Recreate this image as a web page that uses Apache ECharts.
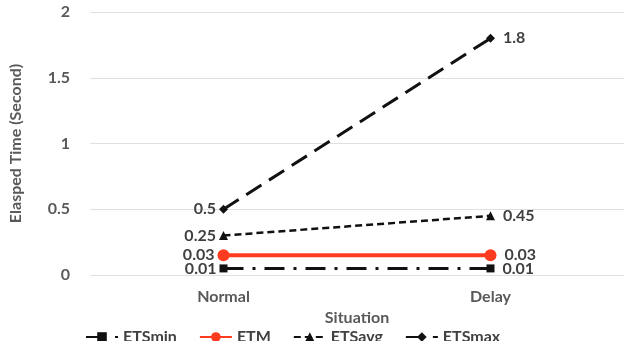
<!DOCTYPE html>
<html>
<head>
<meta charset="utf-8">
<script src="https://cdn.jsdelivr.net/npm/echarts@6/dist/echarts.min.js"></script>
<style>
  html, body { margin: 0; padding: 0; background: #fff; }
  #chart { width: 624px; height: 341px; }
</style>
</head>
<body>
<div id="chart"></div>
<script>
var categories = ['Normal', 'Delay'];
var yTicks = [0, 0.5, 1, 1.5, 2];

// plotted positions
var etsMin = [0.05, 0.05];
var etm = [0.15, 0.15];
var etsAvg = [0.3, 0.45];
var etsMax = [0.5, 1.8];

// printed point labels (differ from plotted positions in the original)
var etsMinText = ['0.01', '0.01'];
var etmText = ['0.03', '0.03'];
var etsAvgText = ['0.25', '0.45'];
var etsMaxText = ['0.5', '1.8'];

var font = 'Lato, "Open Sans", sans-serif';

function mkData(vals, texts) {
    return vals.map(function (v, i) {
        return {
            value: v,
            label: {
                show: true,
                position: i === 0 ? 'left' : 'right',
                formatter: texts[i],
                distance: i === 0 ? 3 : 8,
                color: '#404040',
                fontFamily: font,
                fontSize: 16,
                fontWeight: 'bold'
            }
        };
    });
}

var series = [
    {
        name: 'ETSmin',
        type: 'line',
        data: mkData(etsMin, etsMinText),
        symbol: 'rect',
        symbolSize: 8,
        itemStyle: { color: '#111' },
        lineStyle: { color: '#111', width: 3, type: [20, 9, 3, 9] }
    },
    {
        name: 'ETM',
        type: 'line',
        data: mkData(etm, etmText),
        symbol: 'circle',
        symbolSize: 12,
        itemStyle: { color: '#ff3b1f' },
        lineStyle: { color: '#ff3b1f', width: 4 }
    },
    {
        name: 'ETSavg',
        type: 'line',
        data: mkData(etsAvg, etsAvgText),
        symbol: 'triangle',
        symbolSize: 9,
        itemStyle: { color: '#111' },
        lineStyle: { color: '#111', width: 2.5, type: [7, 4] }
    },
    {
        name: 'ETSmax',
        type: 'line',
        data: mkData(etsMax, etsMaxText),
        symbol: 'diamond',
        symbolSize: 9,
        itemStyle: { color: '#111' },
        lineStyle: { color: '#111', width: 3, type: [18, 9] }
    }
];

var chart = echarts.init(document.getElementById('chart'), null, { renderer: 'canvas' });
chart.setOption({
    animation: false,
    grid: { left: 75, right: 0, top: 12, bottom: 66 },
    xAxis: {
        type: 'category',
        data: categories,
        name: 'Situation',
        nameLocation: 'middle',
        nameGap: 31,
        nameTextStyle: { color: '#595959', fontFamily: font, fontSize: 16, fontWeight: 'bold' },
        axisLine: { show: false },
        axisTick: { show: false },
        axisLabel: { color: '#595959', fontFamily: font, fontSize: 16, fontWeight: 'bold', margin: 14 }
    },
    yAxis: {
        type: 'value',
        min: yTicks[0],
        max: yTicks[yTicks.length - 1],
        interval: 0.5,
        name: 'Elasped Time (Second)',
        nameLocation: 'middle',
        nameGap: 66,
        nameTextStyle: { color: '#595959', fontFamily: font, fontSize: 16, fontWeight: 'bold' },
        axisLabel: { color: '#595959', fontFamily: font, fontSize: 16, fontWeight: 'bold', margin: 20 },
        splitLine: { lineStyle: { color: '#e0e0e0', width: 1 } }
    },
    legend: {
        bottom: -9,
        left: 80,
        itemGap: 22,
        itemWidth: 32,
        itemHeight: 12,
        textStyle: { color: '#404040', fontFamily: font, fontSize: 16, fontWeight: 'bold' },
        data: ['ETSmin', 'ETM', 'ETSavg', 'ETSmax']
    },
    series: series
});
</script>
</body>
</html>
